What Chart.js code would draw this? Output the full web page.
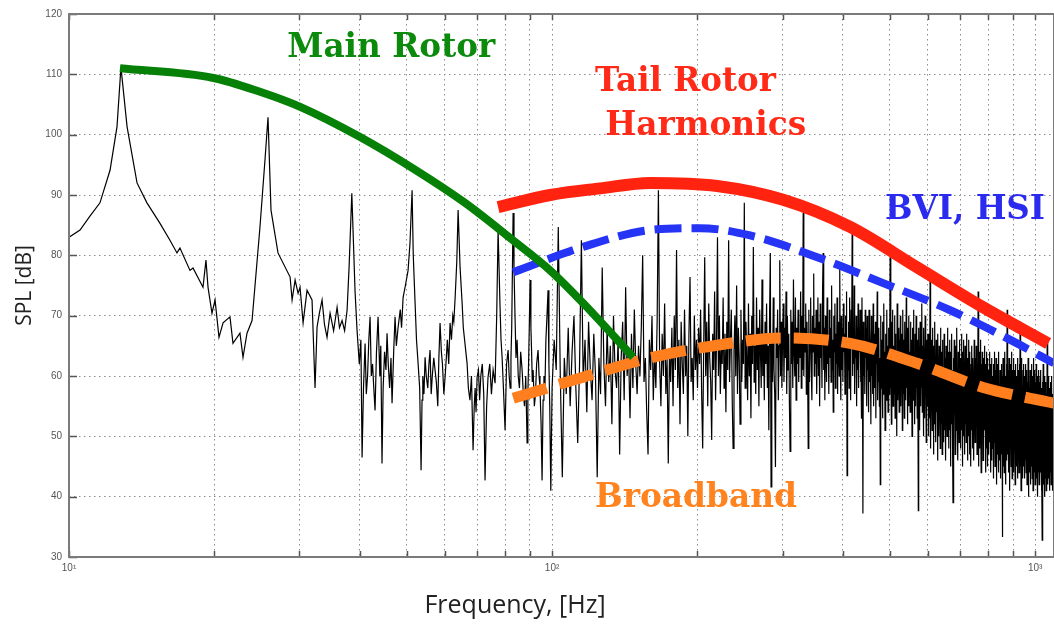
<!DOCTYPE html>
<html>
<head>
<meta charset="utf-8">
<title>Helicopter noise spectrum</title>
<script src="https://cdn.jsdelivr.net/npm/chart.js@4.4.1/dist/chart.umd.min.js"></script>
<style>
  html, body { margin: 0; padding: 0; background: #ffffff; }
  #wrap { width: 1054px; height: 633px; }
  canvas { display: block; }
</style>
</head>
<body>
<div id="wrap"><canvas id="spl" width="1054" height="633"></canvas></div>
<script>
// ---- Measured spectrum, low band (irregular frequencies, Hz / dB) ----
const lowBandHz = [
  10.0, 10.54, 11.05, 11.59, 12.16, 12.57, 12.81, 13.19, 13.83, 14.50, 15.43, 16.18, 16.73, 16.97, 17.80, 18.06, 18.94, 19.21, 19.40, 19.77,
  20.06, 20.44, 20.84, 21.54, 21.85, 22.59, 22.92, 23.36, 23.93, 24.85, 25.45, 25.82, 26.19, 27.08, 28.69, 28.96, 29.38, 29.80, 30.08, 30.52,
  31.10, 31.85, 32.31, 32.62,
  33.0, 33.41, 33.8, 34.21, 34.71, 35.3, 35.89, 36.3, 36.75, 37.2,
  37.64, 38.0, 38.5, 39.10, 39.47, 39.9, 40.2, 40.43, 40.7, 41.01,
  41.25, 41.5, 41.75, 42.0, 42.25, 42.5, 42.75, 43.01, 43.3, 43.63,
  44.0, 44.2, 44.46, 44.7, 45.0, 45.3, 45.54, 45.8, 46.1, 46.4,
  46.64, 47.0, 47.31, 47.6, 47.99, 48.5, 48.8, 49.16, 49.7, 50.34,
  50.8, 51.31, 51.6, 52.05, 52.4, 52.8, 53.2, 53.56, 53.8, 54.0,
  54.3, 54.59, 54.9, 55.3, 55.6, 55.9, 56.2, 56.5, 56.9, 57.25,
  57.6, 58.0, 58.3, 58.63, 59.0, 59.3, 59.7, 60.05, 60.4, 60.7,
  61.1, 61.49, 61.9, 62.3, 62.6, 63.0, 63.5, 63.9, 64.5, 65.13,
  65.5, 65.9, 66.3, 66.69, 67.1, 67.6, 68.1, 68.62, 69.0, 69.3,
  69.6, 69.95, 70.4, 70.8, 71.2, 71.7, 72.2, 72.65, 73.2, 73.69,
  74.3, 74.9, 75.5, 76.21, 76.8, 77.31, 78.0, 78.4, 78.8, 79.3,
  79.93, 80.5, 81.09, 81.5, 81.9, 82.2, 82.5, 83.05, 83.4, 83.8,
  84.2, 84.65, 85.1, 85.6, 86.1, 86.69, 87.2, 87.7, 88.2, 88.78,
  89.1, 89.4, 89.7, 90.05, 90.4, 90.7, 91.0, 91.36, 91.9, 92.4,
  92.9, 93.54, 94.0, 94.4, 94.9, 95.35, 95.8, 96.2, 96.6, 97.1,
  97.6, 98.1, 98.5, 98.9, 99.4];
const lowBandDb = [
  83.0, 84.2, 86.5, 88.7, 94.1, 101.3, 111.2, 101.3, 92.0, 88.7, 85.3, 82.5, 80.4, 81.2, 77.5, 77.9, 74.7, 79.2, 74.7, 70.4,
  72.6, 66.4, 68.8, 69.8, 65.4, 67.1, 63.1, 67.1, 69.2, 84.7, 95.8, 102.9, 87.5, 80.4, 76.4, 72.6, 75.9, 73.7, 74.7, 68.8,
  74.2, 72.6, 58.0, 68.1,
  70.5, 72.6, 68.5, 66.4, 70.4, 67.5, 71.4, 68.0, 69.2, 67.5,
  70.9, 78.0, 90.3, 74.0, 67.6, 62.0, 66.0, 46.5, 58.0, 65.4,
  57.0, 60.0, 66.0, 69.8, 60.0, 62.0, 58.0, 54.3, 64.0, 69.8,
  60.0, 65.0, 45.5, 58.0, 64.0, 61.0, 67.1, 62.0, 58.0, 63.0,
  55.5, 64.0, 69.8, 65.0, 68.0, 71.0, 68.0, 73.0, 75.0, 77.5,
  82.0, 90.8, 80.0, 72.1, 66.0, 62.1, 58.0, 44.4, 56.0, 60.0,
  57.0, 63.1, 60.0, 58.0, 62.0, 64.3, 57.0, 60.0, 63.0, 61.0,
  59.0, 55.0, 63.0, 68.8, 64.0, 62.0, 57.0, 59.8, 63.0, 66.0,
  62.0, 68.8, 66.0, 70.0, 69.0, 73.0, 79.0, 87.5, 78.0, 72.1,
  68.0, 66.0, 64.0, 62.1, 58.0, 56.0, 60.0, 47.7, 55.0, 58.0,
  54.0, 59.8, 61.0, 56.0, 60.0, 62.0, 57.0, 42.7, 55.0, 59.8,
  62.0, 57.0, 61.0, 58.8, 70.0, 84.2, 72.0, 66.0, 63.1, 58.0,
  51.0, 62.0, 64.3, 60.0, 58.0, 63.0, 68.0, 87.0, 78.0, 70.0,
  63.0, 66.0, 60.0, 58.0, 64.0, 61.0, 57.0, 55.0, 60.0, 48.9,
  57.0, 62.0, 68.0, 75.9, 68.0, 64.0, 59.0, 61.0, 55.0, 57.0,
  62.0, 64.3, 60.0, 58.0, 52.0, 42.7, 56.0, 60.0, 57.0, 66.0,
  70.0, 74.2, 62.0, 55.0, 41.0];

// ---- Measured spectrum, FFT bins from 100 Hz in 1 Hz steps (dB) ----
const fftStartHz = 100;
const fftStepHz = 1;
const fftDb = [
  58, 66, 61, 84.7, 60, 43.2, 63, 57, 68, 55, 64, 70, 58, 48.9, 62, 82.5, 59, 66, 54, 69, 61, 56, 67, 60, 43.2,
  63, 57, 78, 62, 55, 68, 59, 65, 52, 70, 61, 58, 66, 47, 63, 69, 56, 74.7, 60, 64, 53, 67, 58, 71, 62,
  57, 65, 60, 68, 80, 59, 63, 54, 47, 66, 61, 70, 56, 64, 58, 69, 90.8, 62, 55, 67, 60, 72, 57, 63, 45.5,
  64, 59, 68, 55, 70, 61, 80.9, 58, 66, 52, 69, 62, 57, 71, 60, 65, 50, 67, 76.4, 59, 63, 56, 70, 61, 66,
  58, 68, 62, 71, 57, 48, 65, 79.7, 60, 69, 55, 72, 63, 59, 49.4, 67, 61, 74, 56, 66, 83, 60, 70, 57, 65,
  62, 73, 58, 67, 54, 69, 61, 82.5, 59, 66, 71, 56, 48, 64, 70, 60, 75, 57, 68, 63, 52, 71, 59, 66, 62,
  88.7, 58, 69, 63, 56, 72, 60, 67, 53, 70, 62, 81.4, 59, 65, 57, 73, 61, 68, 55, 71, 64, 58, 76, 60, 67,
  56, 69, 62, 72, 58, 65, 51, 70, 80.4, 41.6, 66, 59, 73, 61, 57, 44.9, 68, 63, 71, 56, 65, 79.2, 60, 69, 58,
  66, 72, 59, 68, 63, 74, 57, 70, 61, 67, 55, 47.5, 71, 62, 69, 58, 76, 64, 60, 73, 56, 68, 62, 71, 59,
  67, 63, 74, 58, 70, 61, 87, 60, 68, 64, 72, 57, 69, 62, 48, 71, 59, 66, 73, 61, 56, 70, 64, 77, 60,
  68, 62, 71, 57, 66, 73, 60, 69, 55, 72, 63, 67, 58, 74, 80.4, 61, 68, 56, 70, 64, 59, 73, 62, 66, 57,
  71, 63, 68, 59, 75, 61, 66, 54, 70, 64, 72, 58, 67, 62, 73, 57, 69, 65, 60, 78, 63, 56, 70, 61, 68,
  59, 72, 64, 67, 57, 70, 62, 74, 43.5, 66, 61, 69, 58, 73, 63, 56, 71, 65, 83.7, 60, 68, 62, 75, 57, 66,
  63, 70, 55, 68, 61, 72, 58, 66, 64, 71, 59, 67, 53, 73, 62, 37.2, 69, 60, 65, 57, 71, 63, 68, 55, 70,
  61, 66, 54, 71, 59, 68, 63, 52, 70, 60, 65, 57, 72, 55, 67, 61, 58, 69, 53, 66, 62, 74, 56, 64, 59,
  68, 55, 63, 42, 70, 58, 66, 61, 53, 69, 57, 72, 60, 64, 51, 67, 62, 56, 71, 59, 65, 54, 68, 61, 57,
  66, 79.7, 58, 63, 52, 69, 60, 71, 55, 65, 62, 57, 70, 53, 67, 59, 64, 50, 72, 61, 56, 68, 63, 54, 66,
  60, 70, 55, 64, 58, 67, 51, 71, 62, 57, 66, 53, 69, 60, 63, 56, 73, 58, 65, 52, 68, 61, 55, 70, 59,
  64, 54, 69, 61, 57, 66, 50, 68, 62, 56, 71, 59, 63, 52, 67, 60, 55, 70, 58, 64, 53, 66, 61, 37.7, 68,
  57, 63, 51, 69, 60, 55, 67, 58, 72, 54, 65, 61, 50, 68, 59, 63, 53, 70, 57, 64, 49, 66, 60, 55, 67,
  56, 64, 50, 67, 59, 53, 76, 61, 48, 66, 57, 62, 51, 68, 55, 60, 47, 65, 58, 52, 69, 56, 63, 49, 66,
  54, 61, 58, 46, 67, 57, 63, 50, 65, 55, 60, 48, 68, 56, 62, 52, 64, 47, 66, 58, 53, 61, 49, 67, 57,
  51, 63, 59, 46, 65, 55, 61, 50, 68, 57, 53, 64, 48, 62, 56, 66, 51, 60, 45, 64, 58, 52, 67, 55, 61,
  49, 39, 63, 57, 52, 66, 54, 60, 47, 65, 58, 51, 62, 56, 68, 50, 59, 46, 64, 55, 61, 49, 66, 57, 53,
  63, 48, 60, 55, 67, 51, 58, 45, 64, 56, 61, 50, 66, 54, 59, 47, 65, 57, 52, 62, 49, 67, 55, 60, 46,
  63, 53, 58, 50, 66, 56, 61, 47, 64, 54, 59, 45, 62, 57, 51, 65, 55, 48, 63, 58, 52, 60, 46, 66, 54,
  59, 49, 63, 56, 51, 65, 53, 60, 47, 62, 55, 50, 74, 57, 45, 61, 54, 64, 48, 58, 52, 66, 55, 44, 62,
  57, 50, 64, 53, 59, 46, 63, 55, 49, 61, 56, 65, 51, 58, 44, 62, 54, 60, 48, 64, 52, 57, 45, 63, 55,
  50, 61, 47, 58, 53, 64, 49, 56, 44, 62, 52, 59, 46, 63, 54, 48, 60, 51, 57, 43, 62, 55, 49, 64, 52,
  58, 45, 61, 53, 48, 63, 50, 57, 42, 60, 54, 47, 62, 51, 56, 44, 64, 49, 58, 52, 46, 61, 55, 43, 59,
  51, 62, 47, 56, 53, 33.3, 60, 49, 63, 45, 57, 52, 61, 44, 58, 50, 64, 48, 55, 42, 60, 53, 46, 62, 50,
  71, 47, 58, 52, 61, 44, 56, 50, 63, 46, 59, 53, 41, 60, 48, 55, 62, 45, 57, 51, 64, 43, 58, 49, 61,
  46, 56, 52, 63, 44, 59, 48, 55, 61, 42, 57, 50, 62, 47, 54, 45, 60, 51, 58, 43, 63, 49, 56, 46, 61,
  52, 44, 59, 48, 62, 50, 69, 45, 57, 53, 41, 60, 47, 55, 63, 46, 58, 51, 43, 61, 49, 56, 45, 62, 50,
  57, 43, 60, 48, 54, 46, 62, 51, 44, 58, 49, 61, 42, 56, 52, 59, 45, 63, 47, 55, 40, 60, 50, 46, 58,
  44, 61, 49, 54, 42, 59, 47, 62, 51, 45, 57, 43, 60, 48, 55, 41, 63, 46, 53, 50, 58, 44, 61, 47, 56,
  42, 59, 48, 55, 45, 62, 50, 43, 58, 46, 54, 40, 60, 47, 56, 44, 61, 49, 53, 42, 59, 46, 57, 43, 60,
  48, 55, 44, 61, 46, 52, 41, 58, 45, 32.8, 59, 47, 54, 43, 62, 49, 56, 42, 58, 45, 53, 40, 60, 47, 55,
  43, 59, 46, 52, 41, 57, 48, 54, 44, 66, 45, 58, 50, 42, 56, 47, 60, 43, 53, 46, 58, 41, 55, 48, 57,
  44, 59, 47, 52, 42, 56, 49, 60, 45, 53, 41, 57, 46, 54, 43, 58, 48, 51, 44, 56
];

// ---- Source trend curves (Hz / dB) ----
const mainRotorHz = [12.75, 19.9, 24.85, 30.1, 40.05, 52.0, 66.0, 81.8, 99.1, 115.9, 147.2];
const mainRotorDb = [111.0, 109.4, 107.1, 104.6, 99.6, 94.2, 88.7, 82.9, 77.5, 72.1, 63.1];
const tailRotorHz = [77.3, 99.1, 125.7, 159.6, 219.6, 300.9, 414, 569.9, 780.4, 1064];
const tailRotorDb = [88.0, 90.0, 91.1, 92.0, 91.5, 89.2, 84.7, 78.0, 71.4, 65.4];
const bviHsiHz = [83.1, 115.9, 159.6, 202.5, 257, 353.8, 484.6, 667, 917.6, 1094];
const bviHsiDb = [77.2, 81.4, 84.2, 84.5, 83.3, 79.7, 75.4, 70.9, 65.4, 62.1];
const broadbandHz = [83.1, 115.9, 159.6, 219.6, 300.9, 414, 569.9, 780.4, 1094];
const broadbandDb = [56.3, 59.8, 63.0, 65.1, 66.3, 65.4, 62.1, 58.1, 55.5];

// ---- Axis ticks ----
const freqTicks = [10, 20, 30, 40, 50, 60, 70, 80, 90, 100, 200, 300, 400, 500, 600, 700, 800, 900, 1000];
const freqTickLabels = { 10: '10\u00B9', 100: '10\u00B2', 1000: '10\u00B3' };
const splTicks = [30, 40, 50, 60, 70, 80, 90, 100, 110, 120];

const toPoints = (xs, ys) => xs.map((x, i) => ({ x: x, y: ys[i] }));
const spectrumPoints = toPoints(lowBandHz, lowBandDb)
  .concat(fftDb.map((v, i) => ({ x: fftStartHz + i * fftStepHz, y: v })));

// Text callouts naming each noise source
const callouts = [
  { text: 'Main Rotor', hz: 28.3, db: 112.9, width: 208, color: '#0b8a0b' },
  { text: 'Tail Rotor', hz: 122.7, db: 107.2, width: 181, color: '#ff2a17' },
  { text: 'Harmonics', hz: 128.8, db: 99.9, width: 201, color: '#ff2a17' },
  { text: 'BVI, HSI', hz: 489, db: 86.0, width: 160, color: '#2b2bef' },
  { text: 'Broadband', hz: 122.7, db: 38.3, width: 202, color: '#ff8420' }
];

const framePlugin = {
  id: 'frameAndTicks',
  afterDatasetsDraw(chart) {
    const { ctx, chartArea: a, scales } = chart;
    ctx.save();
    // inward tick marks
    ctx.strokeStyle = '#555';
    ctx.lineWidth = 1.5;
    ctx.beginPath();
    splTicks.forEach(v => {
      const y = Math.round(scales.y.getPixelForValue(v)) + 0.5;
      ctx.moveTo(a.left, y); ctx.lineTo(a.left + 8, y);
    });
    freqTicks.forEach(f => {
      const x = Math.round(scales.x.getPixelForValue(f)) + 0.5;
      ctx.moveTo(x, a.bottom); ctx.lineTo(x, a.bottom - 6);
      ctx.moveTo(x, a.top); ctx.lineTo(x, a.top + 6);
    });
    ctx.stroke();
    // plot box
    ctx.strokeStyle = '#7a7a7a';
    ctx.lineWidth = 2;
    ctx.strokeRect(a.left, a.top, a.right - a.left, a.bottom - a.top);
    ctx.restore();
  }
};

const calloutPlugin = {
  id: 'callouts',
  afterDraw(chart) {
    const { ctx, scales } = chart;
    ctx.save();
    ctx.font = 'bold 33px "DejaVu Serif"';
    ctx.textAlign = 'left';
    ctx.textBaseline = 'alphabetic';
    callouts.forEach(c => {
      const x = scales.x.getPixelForValue(c.hz);
      const y = scales.y.getPixelForValue(c.db);
      const w = ctx.measureText(c.text).width;
      ctx.save();
      ctx.translate(x, y);
      ctx.scale(c.width / w, 1);
      ctx.fillStyle = c.color;
      ctx.fillText(c.text, 0, 0);
      ctx.restore();
    });
    // horizontal axis title
    ctx.font = '25px "Open Sans"';
    ctx.fillStyle = '#222';
    ctx.textAlign = 'center';
    ctx.textBaseline = 'middle';
    ctx.fillText('Frequency, [Hz]', 515, 606);
    ctx.restore();
  }
};

const curve = (label, xs, ys, color, width, dash, order) => ({
  label: label,
  data: toPoints(xs, ys),
  borderColor: color,
  borderWidth: width,
  borderDash: dash,
  borderCapStyle: 'butt',
  pointRadius: 0,
  cubicInterpolationMode: 'monotone',
  fill: false,
  order: order
});

new Chart(document.getElementById('spl'), {
  type: 'line',
  data: {
    datasets: [
      curve('Main Rotor', mainRotorHz, mainRotorDb, '#078007', 8, [], 1),
      curve('Tail Rotor Harmonics', tailRotorHz, tailRotorDb, '#ff2310', 12, [], 2),
      curve('BVI, HSI', bviHsiHz, bviHsiDb, '#2634f5', 8, [27, 10], 3),
      curve('Broadband', broadbandHz, broadbandDb, '#ff7f1f', 11, [35, 13], 4),
      {
        label: 'SPL',
        data: spectrumPoints,
        borderColor: '#000000',
        borderWidth: 1.2,
        pointRadius: 0,
        tension: 0,
        fill: false,
        order: 5
      }
    ]
  },
  options: {
    responsive: false,
    animation: false,
    events: [],
    layout: { padding: { top: 14, right: 0, bottom: 0, left: 0 } },
    plugins: { legend: { display: false }, tooltip: { enabled: false } },
    scales: {
      x: {
        type: 'logarithmic',
        min: 10,
        max: 1094,
        afterBuildTicks: s => { s.ticks = freqTicks.map(v => ({ value: v })); },
        afterFit: s => { s.height = 76; },
        grid: { color: '#8c8c8c', lineWidth: 1, drawTicks: false },
        border: { display: false, dash: [1.5, 3.5] },
        ticks: {
          autoSkip: false,
          maxRotation: 0,
          padding: 5,
          color: '#555',
          font: { family: 'Liberation Sans', size: 10 },
          callback: v => freqTickLabels[v] || ''
        },
        title: { display: false }
      },
      y: {
        min: 30,
        max: 120,
        afterBuildTicks: s => { s.ticks = splTicks.map(v => ({ value: v })); },
        afterFit: s => { s.width = 69; },
        grid: { color: '#8c8c8c', lineWidth: 1, drawTicks: false },
        border: { display: false, dash: [1.5, 3.5] },
        ticks: {
          padding: 7,
          color: '#555',
          font: { family: 'Liberation Sans', size: 10 }
        },
        title: {
          display: true,
          text: 'SPL [dB]',
          color: '#222',
          font: { family: 'Open Sans', size: 21 },
          padding: { top: 12, bottom: 0 }
        }
      }
    }
  },
  plugins: [framePlugin, calloutPlugin]
});
</script>
</body>
</html>
